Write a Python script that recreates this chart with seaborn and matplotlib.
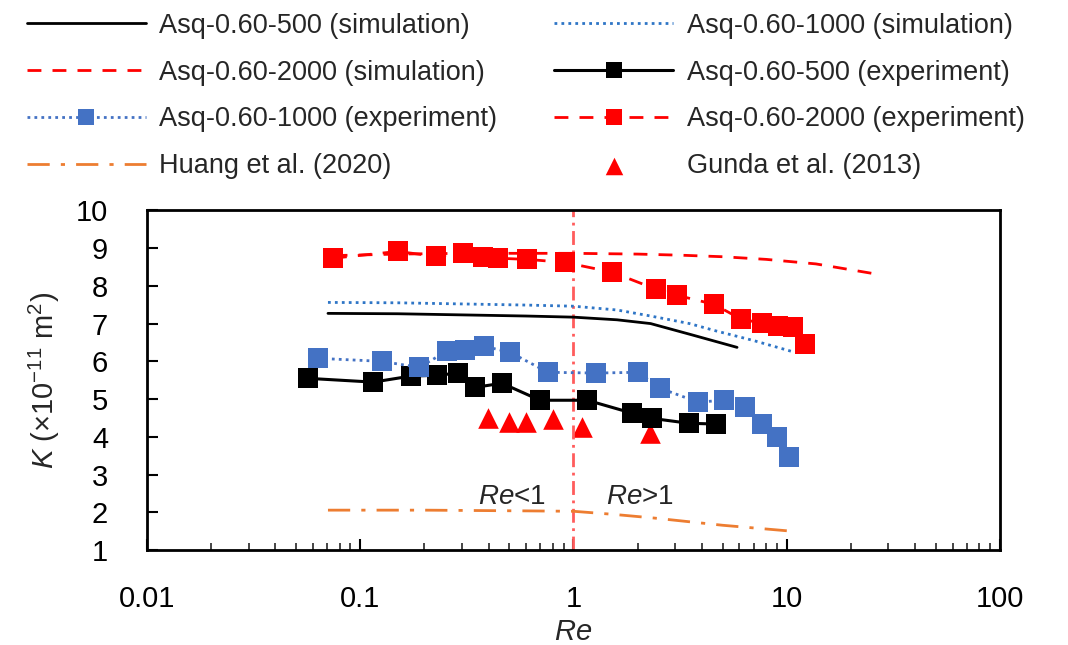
import numpy as np
import pandas as pd
import matplotlib
matplotlib.use("Agg")
import matplotlib.pyplot as plt
import matplotlib.ticker as mticker
import seaborn as sns

# Daten
# Simulation
re_sim_500 = [0.0706, 0.15, 0.3, 0.6, 1.0, 1.6, 2.3, 3.6, 5.85]
k_sim_500 = [7.27, 7.26, 7.23, 7.20, 7.17, 7.10, 7.00, 6.70, 6.37]

re_sim_1000 = [0.0706, 0.15, 0.3, 0.6, 1.0, 1.6, 2.3, 3.5, 4.7, 7.0, 10.9]
k_sim_1000 = [7.56, 7.55, 7.52, 7.49, 7.46, 7.36, 7.20, 7.00, 6.80, 6.55, 6.24]

re_sim_2000 = [0.075, 0.15, 0.3, 0.6, 1.0, 2.0, 3.2, 5.0, 8.0, 13.7, 25.1]
k_sim_2000 = [8.80, 8.84, 8.86, 8.86, 8.86, 8.84, 8.81, 8.77, 8.70, 8.58, 8.33]

# Experiment
re_exp_500 = [0.0569, 0.115, 0.173, 0.229, 0.287, 0.345, 0.462, 0.697, 1.16, 1.88, 2.33, 3.48, 4.66]
k_exp_500 = [5.55, 5.45, 5.61, 5.63, 5.69, 5.31, 5.42, 4.97, 4.97, 4.63, 4.49, 4.36, 4.34]

re_exp_1000 = [0.0634, 0.126, 0.189, 0.255, 0.310, 0.380, 0.504, 0.759, 1.28, 2.01, 2.54, 3.84, 5.08, 6.37, 7.65, 9.0, 10.3]
k_exp_1000 = [6.08, 6.00, 5.84, 6.27, 6.29, 6.40, 6.24, 5.71, 5.69, 5.71, 5.29, 4.92, 4.97, 4.79, 4.34, 3.99, 3.46]

re_exp_2000 = [0.0745, 0.150, 0.226, 0.303, 0.377, 0.443, 0.605, 0.912, 1.52, 2.44, 3.05, 4.56, 6.10, 7.65, 9.10, 10.7, 12.2]
k_exp_2000 = [8.73, 8.91, 8.78, 8.86, 8.76, 8.73, 8.70, 8.62, 8.36, 7.91, 7.75, 7.51, 7.12, 7.01, 6.93, 6.90, 6.45]

# Literatur
re_huang = [0.0706, 0.2, 0.625, 1.0, 1.53, 2.4, 5.0, 10.7]
k_huang = [2.06, 2.06, 2.04, 2.03, 1.95, 1.85, 1.66, 1.50]

re_gunda = [0.397, 0.498, 0.599, 0.801, 1.10, 2.28]
k_gunda = [4.49, 4.39, 4.39, 4.47, 4.26, 4.10]

re_split = 1.0
x_ticks = [0.01, 0.1, 1, 10, 100]
x_tick_labels = ["0.01", "0.1", "1", "10", "100"]
y_ticks = [1, 2, 3, 4, 5, 6, 7, 8, 9, 10]

# Farben
c_black = "#000000"
c_red = "#ff0000"
c_blue_sim = "#2e75c6"
c_blue_exp = "#4472c4"
c_orange = "#ed7d31"

sns.set_style("ticks")
plt.rcParams["font.family"] = ["Liberation Sans", "DejaVu Sans"]
plt.rcParams["mathtext.fontset"] = "custom"
plt.rcParams["mathtext.it"] = "Liberation Sans:italic"
plt.rcParams["mathtext.rm"] = "Liberation Sans"

fig = plt.figure(figsize=(10.68, 6.45), dpi=100)
ax = fig.add_axes([0.1376, 0.147, 0.7987, 0.527])

sns.lineplot(x=re_sim_500, y=k_sim_500, ax=ax, color=c_black, linestyle="-", lw=2.0,
             label="Asq-0.60-500 (simulation)", sort=False)
sns.lineplot(x=re_sim_1000, y=k_sim_1000, ax=ax, color=c_blue_sim, linestyle=(0, (1, 1.5)), lw=2.0,
             label="Asq-0.60-1000 (simulation)", sort=False)
sns.lineplot(x=re_sim_2000, y=k_sim_2000, ax=ax, color=c_red, linestyle=(0, (5, 4)), lw=2.0,
             label="Asq-0.60-2000 (simulation)", sort=False)
sns.lineplot(x=re_exp_500, y=k_exp_500, ax=ax, color=c_black, linestyle="-", lw=2.2,
             marker="s", markersize=14, markeredgewidth=0,
             label="Asq-0.60-500 (experiment)", sort=False)
sns.lineplot(x=re_exp_1000, y=k_exp_1000, ax=ax, color=c_blue_exp, linestyle=(0, (1, 1.5)), lw=2.0,
             marker="s", markersize=14, markeredgewidth=0,
             label="Asq-0.60-1000 (experiment)", sort=False)
sns.lineplot(x=re_exp_2000, y=k_exp_2000, ax=ax, color=c_red, linestyle=(0, (5, 4)), lw=2.0,
             marker="s", markersize=14, markeredgewidth=0,
             label="Asq-0.60-2000 (experiment)", sort=False)
sns.lineplot(x=re_huang, y=k_huang, ax=ax, color=c_orange, linestyle=(0, (8, 4, 1.5, 4)), lw=2.0,
             label="Huang et al. (2020)", sort=False)
sns.scatterplot(x=re_gunda, y=k_gunda, ax=ax, color=c_red, marker="^", s=220, linewidth=0,
                label="Gunda et al. (2013)")

# Trennlinie Re = 1
ax.axvline(re_split, color="#ff5c5c", linestyle=(0, (5, 2, 1, 2)), lw=2.0, zorder=1)
ax.text(0.515, 2.42, r"$Re$<1", ha="center", va="center", fontsize=20)
ax.text(2.05, 2.42, r"$Re$>1", ha="center", va="center", fontsize=20)

# Achsen
ax.set_xscale("log")
ax.set_xlim(0.01, 100)
ax.set_ylim(1, 10)
ax.set_xticks(x_ticks)
ax.set_xticklabels(x_tick_labels)
ax.xaxis.set_minor_locator(mticker.LogLocator(base=10, subs=np.arange(2, 10)))
ax.xaxis.set_minor_formatter(mticker.NullFormatter())
ax.set_yticks(y_ticks)
ax.tick_params(axis="both", which="major", direction="in", length=8, width=1.5,
               labelsize=21, colors="#000000")
ax.tick_params(axis="x", which="major", pad=25)
ax.tick_params(axis="y", which="major", pad=28)
ax.tick_params(axis="x", which="minor", direction="in", length=5, width=1.2)
ax.set_xlabel(r"$Re$", fontsize=21, labelpad=4)
ax.set_ylabel(r"$K$ ($\times$10$^{-11}$ m$^{2}$)", fontsize=21, labelpad=10)
for sp in ax.spines.values():
    sp.set_linewidth(2.0)
    sp.set_color("#000000")
ax.grid(False)

# Legende zweispaltig oberhalb
handles, labels = ax.get_legend_handles_labels()
ax.get_legend().remove()
order = [0, 2, 4, 6, 1, 3, 5, 7]
fig.legend([handles[i] for i in order], [labels[i] for i in order],
           ncol=2, loc="upper left", bbox_to_anchor=(0.002, 1.018), frameon=False,
           fontsize=19.5, handlelength=4.4, handletextpad=0.5, columnspacing=2.1,
           labelspacing=0.77, markerscale=0.85)

plt.savefig("out.png", dpi=100)
